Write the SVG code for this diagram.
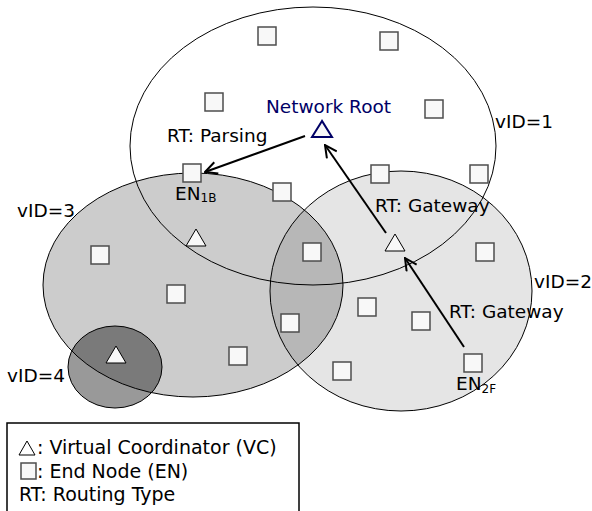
<svg xmlns="http://www.w3.org/2000/svg" width="592" height="511" viewBox="0 0 592 511">
<style>
text{font-family:"DejaVu Sans","Liberation Sans",sans-serif;font-size:18.5px;fill:#000}
.sub{font-size:12px}
.leg{font-size:19px}
.reg{stroke:#000;stroke-width:1}
.en{fill:#f8f8f8;stroke:#4d4d4d;stroke-width:1.5}
.vc{fill:#f8f8f8;stroke:#000;stroke-width:1}
.conn{stroke:#000;stroke-width:2;fill:none;marker-end:url(#arr)}
</style>
<defs>
<marker id="arr" viewBox="0 0 14 14" refX="13" refY="7" markerWidth="14" markerHeight="14" markerUnits="userSpaceOnUse" orient="auto">
<path d="M1,1 L13,7 L1,13" fill="none" stroke="#000" stroke-width="2"/>
</marker>
</defs>
<rect width="592" height="511" fill="#fff"/>
<g id="regions">
<ellipse id="vid3" class="reg" cx="193" cy="285" rx="150" ry="112" fill="#000" fill-opacity="0.2"/>
<ellipse id="vid2" class="reg" cx="401" cy="291" rx="131" ry="120" fill="#000" fill-opacity="0.1"/>
<ellipse id="vid4" class="reg" cx="115" cy="367" rx="47" ry="41" fill="#000" fill-opacity="0.4"/>
<ellipse id="vid1" class="reg" cx="313" cy="146" rx="183" ry="139" fill="none"/>
</g>
<g id="region-labels">
<text x="495" y="128">vID=1</text>
<text x="17" y="217">vID=3</text>
<text x="534" y="288">vID=2</text>
<text x="7" y="382">vID=4</text>
</g>
<g id="connectors">
<line class="conn" x1="305" y1="136" x2="205" y2="172"/>
<line class="conn" x1="386" y1="233" x2="325" y2="145"/>
<line class="conn" x1="464" y1="347" x2="405" y2="258"/>
</g>
<g id="edge-labels">
<text x="167" y="142">RT: Parsing</text>
<text x="375" y="212">RT: Gateway</text>
<text x="449" y="318">RT: Gateway</text>
</g>
<g id="root">
<polygon points="322,121 312,137 332,137" fill="#f8f8f8" stroke="#000066" stroke-width="2"/>
<text x="266" y="113" style="fill:#000066">Network Root</text>
</g>
<g id="vc2"><polygon class="vc" points="395,234 385,251 405,251"/></g>
<g id="vc3"><polygon class="vc" points="196,229 186,246 206,246"/></g>
<g id="vc4"><polygon class="vc" points="116,346 106,363 126,363"/></g>
<g id="en-nodes">
<rect class="en" x="258" y="27" width="18" height="18"/>
<rect class="en" x="380" y="32" width="18" height="18"/>
<rect class="en" x="205" y="93" width="18" height="18"/>
<rect class="en" x="425" y="100" width="18" height="18"/>
<rect class="en" x="273" y="183" width="18" height="18"/>
<rect class="en" x="371" y="165" width="18" height="18"/>
<rect class="en" x="470" y="165" width="18" height="18"/>
<rect class="en" x="91" y="246" width="18" height="18"/>
<rect class="en" x="303" y="243" width="18" height="18"/>
<rect class="en" x="476" y="243" width="18" height="18"/>
<rect class="en" x="167" y="285" width="18" height="18"/>
<rect class="en" x="281" y="314" width="18" height="18"/>
<rect class="en" x="229" y="347" width="18" height="18"/>
<rect class="en" x="358" y="298" width="18" height="18"/>
<rect class="en" x="412" y="312" width="18" height="18"/>
<rect class="en" x="333" y="362" width="18" height="18"/>
</g>
<g id="en1b">
<rect class="en" x="183" y="164" width="18" height="18"/>
<text x="175" y="200">EN<tspan class="sub" dy="2">1B</tspan></text>
</g>
<g id="en2f">
<rect class="en" x="464" y="354" width="18" height="18"/>
<text x="456" y="390">EN<tspan class="sub" dy="3">2F</tspan></text>
</g>
<g id="legend">
<rect x="7" y="423" width="292" height="100" fill="#fff" stroke="#000" stroke-width="1.5"/>
<polygon points="27,441 19,455 35,455" fill="#fff" stroke="#000" stroke-width="1"/>
<text class="leg" x="37" y="454">: Virtual Coordinator (VC)</text>
<rect class="en" x="21" y="463" width="15" height="16"/>
<text class="leg" x="37" y="478">: End Node (EN)</text>
<text class="leg" x="19" y="501">RT: Routing Type</text>
</g>
</svg>
